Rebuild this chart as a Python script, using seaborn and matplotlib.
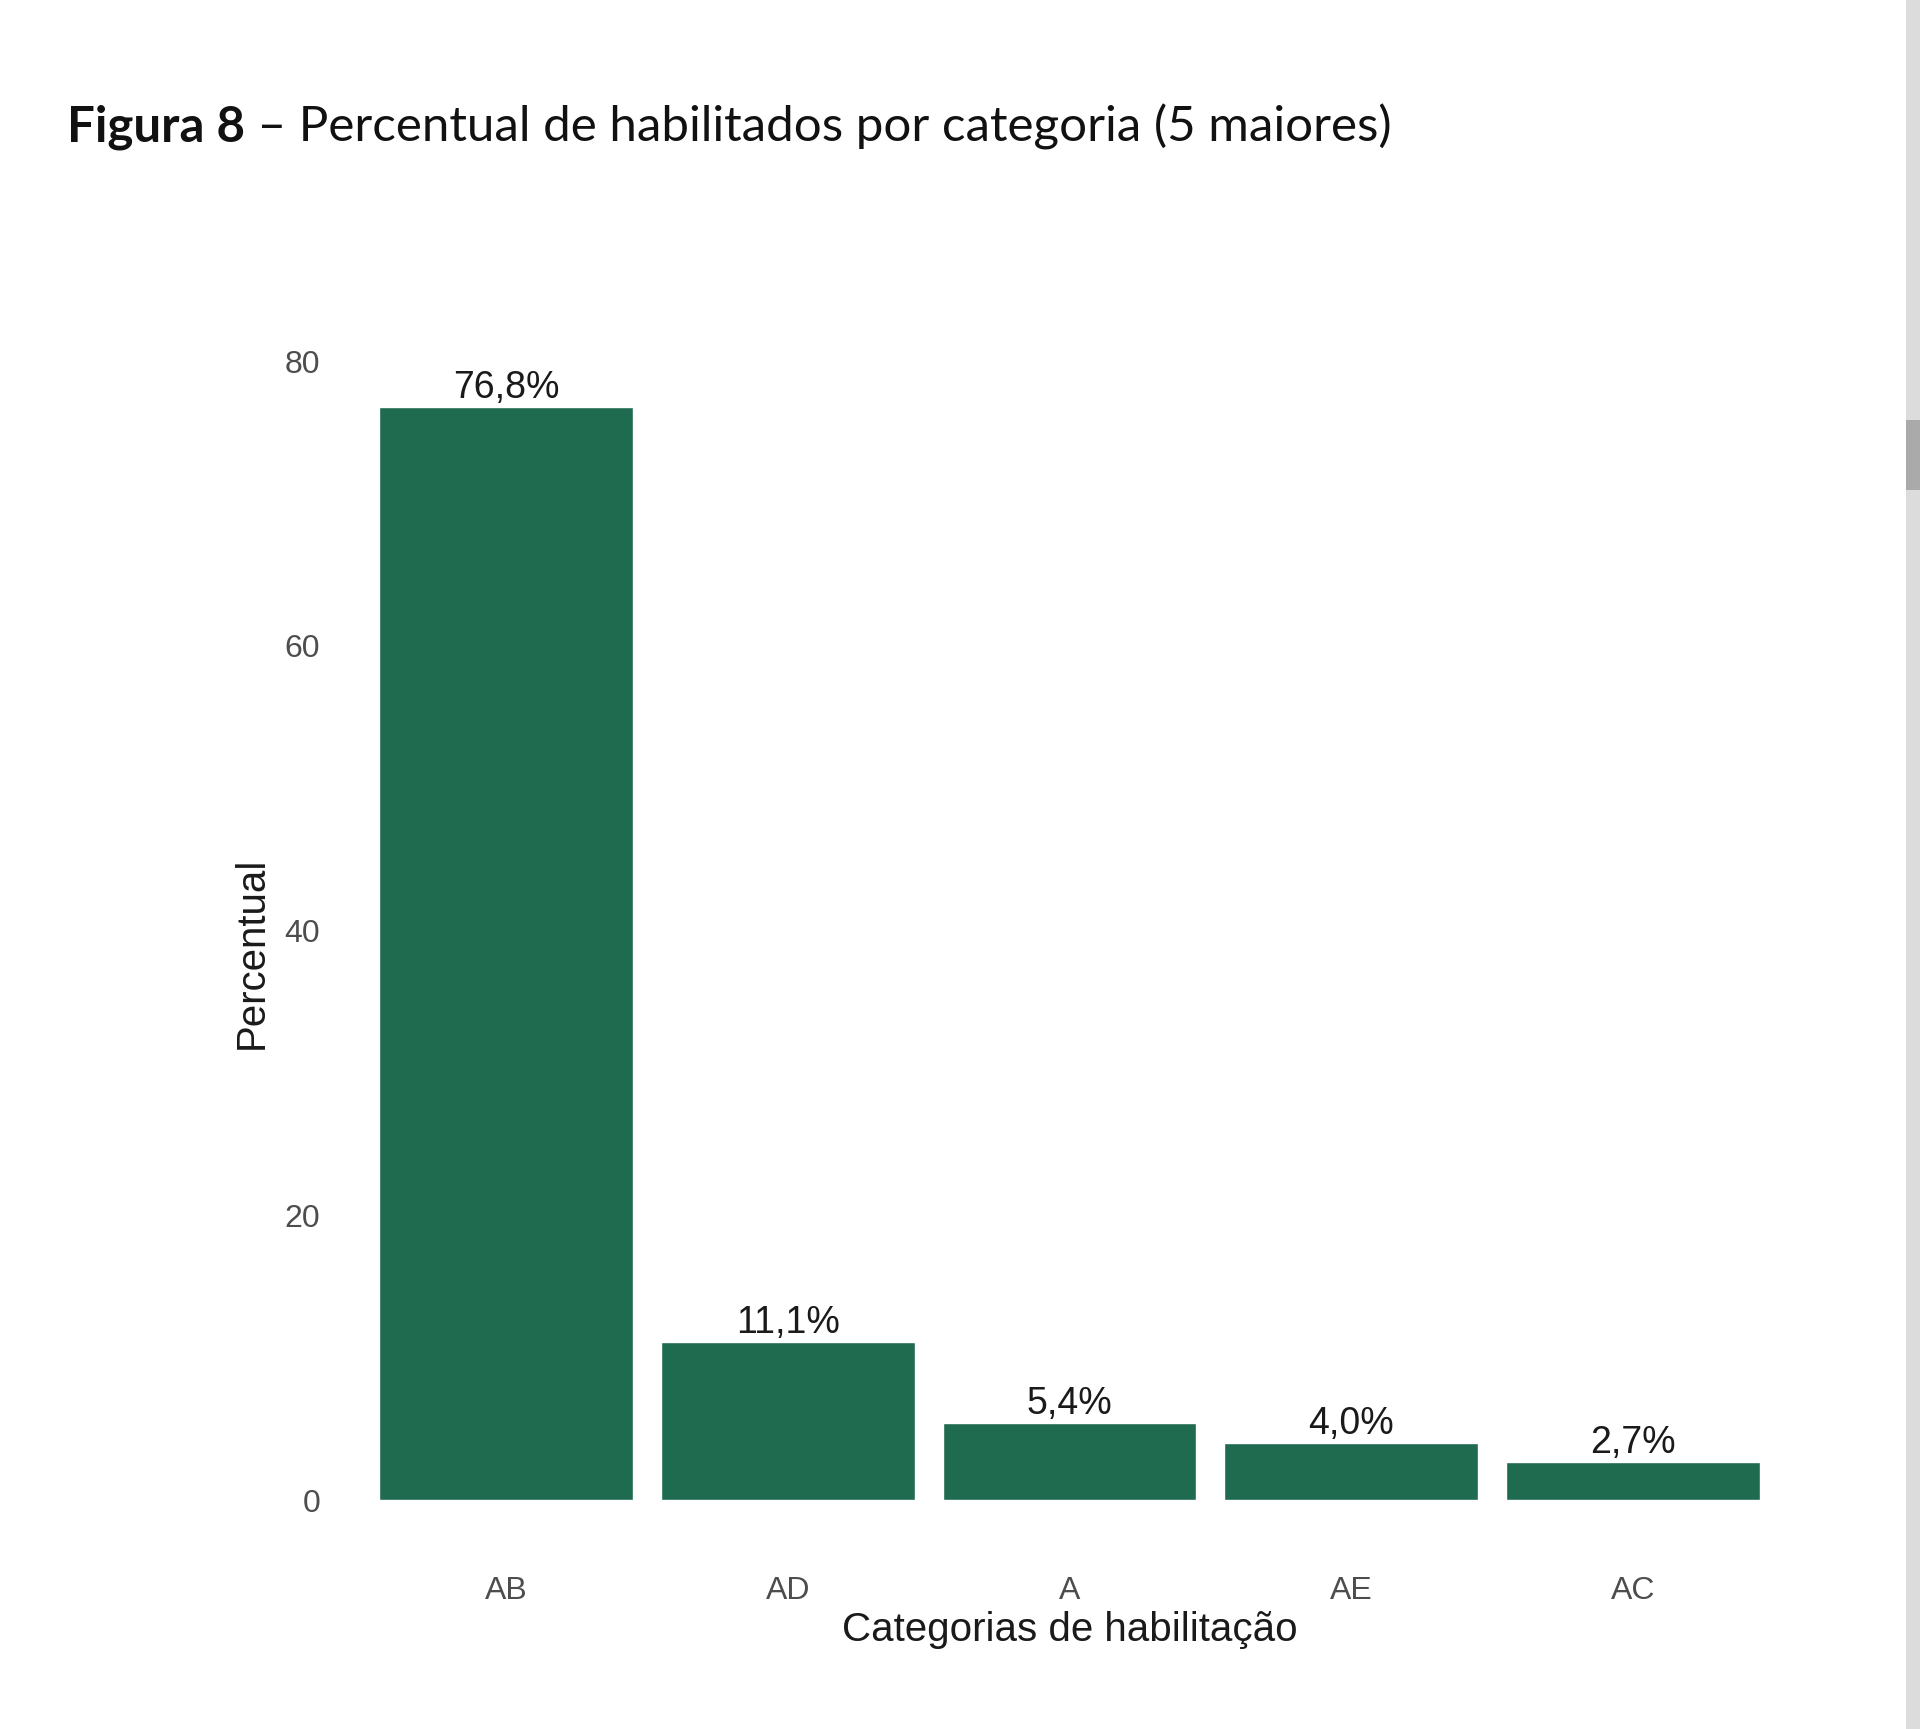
import matplotlib
matplotlib.use("Agg")
import matplotlib.pyplot as plt
import seaborn as sns
import pandas as pd
from matplotlib.patches import Rectangle

categories = ["AB", "AD", "A", "AE", "AC"]
percentuais = [76.8, 11.1, 5.4, 4.0, 2.7]
yticks = [0, 20, 40, 60, 80]

title_bold = "Figura 8"
title_rest = " – Percentual de habilitados por categoria (5 maiores)"
xlabel = "Categorias de habilitação"
ylabel = "Percentual"

sns.set_theme(style="white")
plt.rcParams["font.family"] = ["Liberation Sans", "DejaVu Sans"]

df = pd.DataFrame({"categoria": categories, "percentual": percentuais})

W, H = 1920, 1729
fig = plt.figure(figsize=(W / 100, H / 100), dpi=100)
fig.patch.set_facecolor("white")

ax = fig.add_axes([337 / W, 1 - 1554.7 / H, (1802 - 337) / W, (1554.7 - 351.9) / H])
sns.barplot(data=df, x="categoria", y="percentual", order=categories,
            color="#1E6B50", saturation=1, width=0.9, ax=ax)

ax.set_xlim(-0.6, 4.6)
ax.set_ylim(-3.84, 80.64)
ax.set_yticks(yticks)
ax.set_yticklabels([str(t) for t in yticks])
for s in ax.spines.values():
    s.set_visible(False)
ax.grid(False)
ax.tick_params(axis="both", length=0, labelsize=23, colors="#4D4D4D")
ax.tick_params(axis="y", pad=12)
ax.tick_params(axis="x", pad=15)

labels = [f"{v:.1f}%".replace(".", ",") for v in percentuais]
ax.bar_label(ax.containers[0], labels=labels, padding=0.5, fontsize=27, color="#1A1A1A")

ax.set_xlabel(xlabel, fontsize=29, color="#1A1A1A", labelpad=4)
ax.set_ylabel(ylabel, fontsize=29, color="#1A1A1A", labelpad=10)

# Title in two parts
ty = 1 - 127 / H
t1 = fig.text(67 / W, ty, title_bold, fontsize=35.5, fontweight="bold",
              family=["Lato", "DejaVu Sans"], color="#111111", va="center", ha="left")
fig.canvas.draw()
bb = t1.get_window_extent(renderer=fig.canvas.get_renderer())
fig.text(bb.x1 / W, ty, title_rest, fontsize=35.5,
         family=["Lato", "DejaVu Sans"], color="#111111", va="center", ha="left")

# scrollbar decoration at right edge
fig.patches.append(Rectangle((1906 / W, 0), 14 / W, 1, transform=fig.transFigure,
                             facecolor="#DCDCDC", edgecolor="none"))
fig.patches.append(Rectangle((1906 / W, 1 - 490 / H), 14 / W, 70 / H, transform=fig.transFigure,
                             facecolor="#AAAAAA", edgecolor="none"))

fig.savefig("out.png", dpi=100, facecolor="white")
